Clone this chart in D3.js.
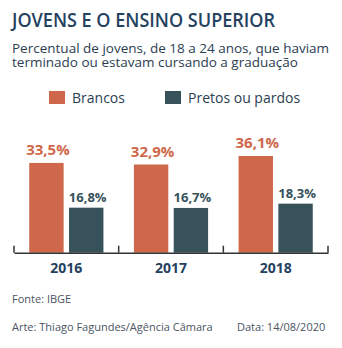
<!DOCTYPE html>
<html><head><meta charset="utf-8">
<script src="https://cdn.jsdelivr.net/npm/d3@7"></script>
<style>
html,body{margin:0;padding:0;background:#fff;}
svg{display:block;font-family:"Open Sans",sans-serif;}
</style></head>
<body>
<script>
const years = ["2016", "2017", "2018"];
const seriesNames = ["Brancos", "Pretos ou pardos"];
const brancos = [33.5, 32.9, 36.1];
const pretos = [16.8, 16.7, 18.3];
const brancosLabels = ["33,5%", "32,9%", "36,1%"];
const pretosLabels = ["16,8%", "16,7%", "18,3%"];
const colors = ["#cf684a", "#37525b"];

const W = 342, H = 348;
const svg = d3.select("body").append("svg").attr("width", W).attr("height", H);

svg.append("text").attr("x", 12).attr("y", 27).attr("fill", "#24415f")
  .attr("font-size", 19).attr("font-weight", 600).attr("textLength", 263).attr("lengthAdjust", "spacingAndGlyphs").text("JOVENS E O ENSINO SUPERIOR");
svg.append("text").attr("x", 12).attr("y", 53).attr("fill", "#2b3e52")
  .attr("font-size", 13.5).text("Percentual de jovens, de 18 a 24 anos, que haviam");
svg.append("text").attr("x", 12).attr("y", 67).attr("fill", "#2b3e52")
  .attr("font-size", 13.5).text("terminado ou estavam cursando a graduação");

// legend
const legX = [49, 165];
seriesNames.forEach((s, i) => {
  svg.append("rect").attr("x", legX[i]).attr("y", 91).attr("width", 16).attr("height", 13).attr("fill", colors[i]);
  svg.append("text").attr("x", legX[i] + 23).attr("y", 103).attr("fill", "#2b3e52")
    .attr("font-size", 14).text(s);
});

const data = years.map((y, i) => ({year: y, values: [brancos[i], pretos[i]], labels: [brancosLabels[i], pretosLabels[i]]}));

const x0 = d3.scaleBand().domain(years).range([14, 328]).padding(0);
const x1 = d3.scaleBand().domain(seriesNames).range([0, x0.bandwidth()]).paddingInner(0.136).paddingOuter(0.383);
const y = d3.scaleLinear().domain([0, 40]).range([252.7, 145.5]);

const g = svg.append("g");
const groups = g.selectAll("g.grp").data(data).join("g").attr("class", "grp")
  .attr("transform", d => `translate(${x0(d.year)},0)`);
groups.selectAll("rect").data(d => d.values.map((v, i) => ({v, i, label: d.labels[i]}))).join("rect")
  .attr("x", d => x1(seriesNames[d.i])).attr("width", x1.bandwidth())
  .attr("y", d => y(d.v)).attr("height", d => y(0) - y(d.v))
  .attr("fill", d => colors[d.i]);
groups.selectAll("text.val").data(d => d.values.map((v, i) => ({v, i, label: d.labels[i]}))).join("text")
  .attr("class", "val")
  .attr("x", d => x1(seriesNames[d.i]) + x1.bandwidth() / 2 + 1.5)
  .attr("y", d => y(d.v) - (d.i === 0 ? 7.5 : 5.5))
  .attr("text-anchor", "middle").attr("font-weight", 700)
  .attr("font-size", d => d.i === 0 ? 15 : 13)
  .attr("fill", d => colors[d.i]).text(d => d.label);

// axis
const axis = d3.axisBottom(x0).tickSize(0).tickPadding(10);
const ax = svg.append("g").attr("transform", `translate(0,${y(0)})`).call(axis);
ax.select(".domain").attr("stroke", "#333").attr("stroke-width", 1.5);
ax.selectAll(".tick text").attr("font-family", "Open Sans").attr("font-size", 14).attr("font-weight", 700).attr("fill", "#24415f").attr("dy", "0.71em");
// separators
const seps = [x0.range()[0], ...years.map(yv => x0(yv) + x0.bandwidth())];
svg.append("g").selectAll("line").data(seps).join("line")
  .attr("x1", d => d).attr("x2", d => d).attr("y1", y(0) - 7).attr("y2", y(0))
  .attr("stroke", "#333").attr("stroke-width", 1.5);

svg.append("text").attr("x", 12).attr("y", 302.5).attr("fill", "#4b5563").attr("font-size", 11).text("Fonte: IBGE");
svg.append("text").attr("x", 12).attr("y", 330.5).attr("fill", "#4b5563").attr("font-size", 11).text("Arte: Thiago Fagundes/Agência Câmara");
svg.append("text").attr("x", 237).attr("y", 330.5).attr("fill", "#4b5563").attr("font-size", 11).text("Data: 14/08/2020");
</script>
</body></html>
